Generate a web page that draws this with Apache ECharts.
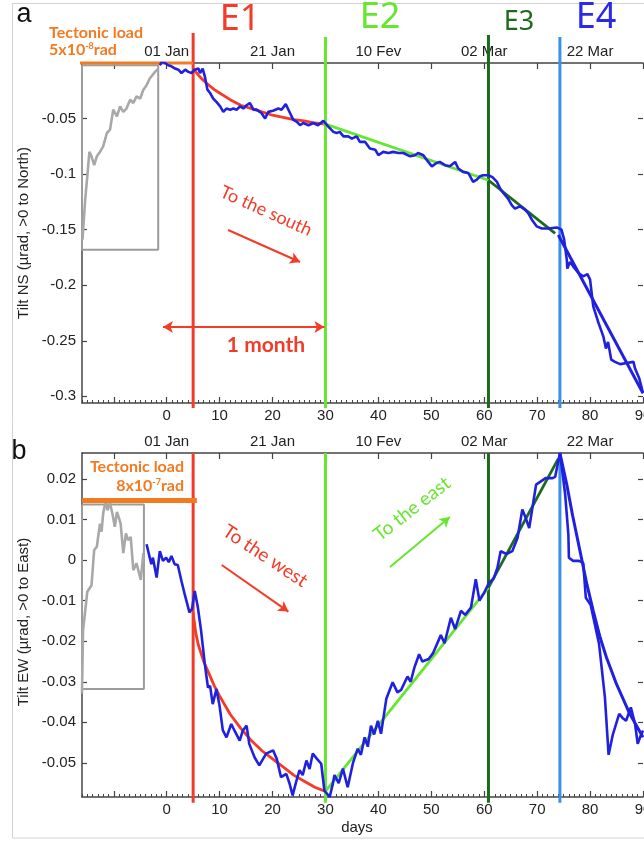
<!DOCTYPE html>
<html><head><meta charset="utf-8">
<script src="https://cdn.jsdelivr.net/npm/echarts@6/dist/echarts.min.js"></script>
<style>html,body{margin:0;padding:0;background:#fff}#c{width:644px;height:842px}</style>
</head><body><div id="c"></div>
<script>
// ================= DATA =================
const eventNames = ['E1', 'E2', 'E3', 'E4'];
const eventDays = [5, 30, 60.8, 74.3];

const bottomTickDays = [-10, 0, 10, 20, 30, 40, 50, 60, 70, 80, 90];
const bottomLabelDays = [0, 10, 20, 30, 40, 50, 60, 70, 80, 90];
const dateTickDays = [0, 20, 40, 60, 80];
const dateLabels = ['01 Jan', '21 Jan', '10 Fev', '02 Mar', '22 Mar'];
const nsTicks = [-0.3, -0.25, -0.2, -0.15, -0.1, -0.05];
const ewTicks = [-0.05, -0.04, -0.03, -0.02, -0.01, 0, 0.01, 0.02];

// ---- panel a : Tilt NS ----
const nsGrayDays = [-15.9,-15.4,-15.0,-14.6,-14.2,-13.7,-13.2,-12.6,-12.0,-11.3,-10.7,-10.1,-9.4,-8.8,-8.2,-7.6,-6.9,-6.3,-5.7,-5.0,-4.4,-3.8,-3.2,-2.2,-1.6];
const nsGrayTilt = [-0.159,-0.123,-0.102,-0.080,-0.084,-0.092,-0.084,-0.080,-0.075,-0.063,-0.060,-0.042,-0.048,-0.039,-0.044,-0.041,-0.033,-0.036,-0.030,-0.032,-0.024,-0.020,-0.014,-0.008,-0.005];
const nsBoxDays = [-16, -1.6];
const nsBoxTilt = [-0.002, -0.168];
const nsLoadDays = [-16.9, 5];
const nsLoadTilt = [0, 0];

const nsDays = [-1.3,-0.9,-0.3,0.3,0.9,1.6,2.2,2.8,3.5,4.1,4.7,5.3,6.0,6.3,6.8,7.2,7.7,8.2,8.8,9.4,10.1,10.7,11.3,12.0,12.6,13.2,13.9,14.5,15.1,15.7,16.4,17.0,17.9,18.6,19.2,20.1,21.1,21.7,22.5,23.3,23.9,24.6,25.2,25.8,26.8,27.7,28.6,29.6,30.5,31.5,32.1,32.7,33.4,34.3,35.0,35.9,36.5,37.5,38.4,39.4,40.0,40.9,41.9,42.8,43.8,44.7,46.0,46.9,47.5,48.5,49.1,50.1,51.0,51.6,52.6,53.5,54.5,55.1,56.0,57.0,57.9,58.6,59.2,59.8,60.8,61.6,62.4,63.0,63.6,64.5,65.2,65.8,66.8,67.7,68.3,69.0,69.9,70.9,72.1,73.7,74.6,75.1,75.6,75.7,76.2,76.8,77.8,78.7,79.5,80.0,80.6,81.6,82.5,83.0,83.4,84.0,84.7,85.7,86.9,88.2,88.5,89.3,90.0];
const nsTilt = [-0.002,0.001,0.000,-0.002,-0.003,-0.005,-0.006,-0.009,-0.006,-0.008,-0.009,-0.006,-0.005,-0.009,-0.005,-0.012,-0.024,-0.027,-0.032,-0.035,-0.039,-0.044,-0.041,-0.042,-0.041,-0.042,-0.039,-0.041,-0.038,-0.036,-0.042,-0.042,-0.045,-0.050,-0.044,-0.043,-0.041,-0.042,-0.037,-0.045,-0.051,-0.053,-0.056,-0.054,-0.056,-0.054,-0.056,-0.052,-0.057,-0.062,-0.063,-0.062,-0.066,-0.066,-0.068,-0.066,-0.071,-0.071,-0.077,-0.078,-0.083,-0.080,-0.081,-0.080,-0.081,-0.081,-0.084,-0.083,-0.081,-0.083,-0.087,-0.093,-0.090,-0.089,-0.092,-0.093,-0.089,-0.095,-0.098,-0.099,-0.107,-0.105,-0.102,-0.101,-0.101,-0.103,-0.107,-0.113,-0.117,-0.122,-0.128,-0.131,-0.129,-0.132,-0.135,-0.141,-0.147,-0.149,-0.149,-0.148,-0.150,-0.159,-0.177,-0.185,-0.179,-0.183,-0.189,-0.192,-0.190,-0.195,-0.219,-0.234,-0.246,-0.257,-0.251,-0.267,-0.269,-0.271,-0.270,-0.269,-0.275,-0.284,-0.297];

const nsFitE1Days = [5,6,7,8,9,10,12,14,16,18,20,22,24,26,28,30];
const nsFitE1Tilt = [-0.005,-0.011,-0.016,-0.020,-0.024,-0.027,-0.033,-0.038,-0.041,-0.044,-0.047,-0.049,-0.051,-0.052,-0.054,-0.055];
const nsFitE2Days = [29.6, 60.8];
const nsFitE2Tilt = [-0.0543, -0.1055];
const nsFitE3Days = [60.8, 73.4];
const nsFitE3Tilt = [-0.1055, -0.1533];
const nsFitE4Days = [74.0, 90];
const nsFitE4Tilt = [-0.1548, -0.2973];

// ---- panel b : Tilt EW ----
const ewGrayDays = [-16.0,-15.9,-15.8,-15.0,-14.2,-13.7,-13.2,-12.6,-12.3,-12.0,-11.5,-11.2,-10.7,-10.2,-9.8,-9.4,-9.1,-8.7,-8.2,-7.7,-7.3,-6.8,-6.3,-5.7,-5.2,-4.9,-4.4];
const ewGrayTilt = [-0.0329,-0.0246,-0.0173,-0.0078,-0.0062,0.0025,0.0033,0.0090,0.0070,0.0115,0.0148,0.0123,0.0140,0.0111,0.0082,0.0119,0.0107,0.0090,0.0017,0.0066,0.0049,0.0057,-0.0025,-0.0008,-0.0033,-0.0049,0.0017];
const ewBoxDays = [-16, -4.3];
const ewBoxTilt = [0.0137, -0.0318];
const ewLoadDays = [-16, 5.7];
const ewLoadTilt = [0.0147, 0.0147];

const ewDays = [-3.8,-3.2,-2.9,-2.6,-1.9,-1.3,-0.7,-0.1,0.4,0.9,1.5,2.1,2.8,3.4,4.3,4.8,5.3,5.9,6.5,7.2,7.8,8.2,8.7,9.4,10.0,10.6,11.3,12.2,12.8,13.8,14.4,15.1,15.6,16.6,17.5,18.8,20.1,20.8,21.6,22.6,23.2,23.8,24.5,25.1,25.7,26.4,27.0,27.6,28.4,29.2,29.8,30.8,31.4,31.7,32.5,33.3,34.2,35.2,36.1,36.7,37.4,38.0,38.6,39.2,39.9,40.5,41.5,42.7,43.6,44.3,45.5,46.1,46.8,47.7,48.3,49.5,50.3,51.8,52.5,53.7,54.5,55.6,56.4,57.5,58.4,59.1,60.0,60.9,61.8,62.5,63.1,64.2,65.3,66.3,67.2,67.8,68.5,69.8,71.6,72.9,73.4,74.3,74.6,75.3,75.9,76.0,76.8,77.9,78.7,79.2,80.1,81.7,82.8,83.5,84.3,85.5,86.2,86.8,87.7,88.5,89.0,89.5,90.0];
const ewTilt = [0.0039,0.0006,-0.0010,0.0006,-0.0043,0.0022,-0.0002,0.0006,-0.0005,0.0010,-0.0010,-0.0012,-0.0052,-0.0084,-0.0129,-0.0120,-0.0076,-0.0117,-0.0174,-0.0256,-0.0314,-0.0310,-0.0355,-0.0318,-0.0360,-0.0419,-0.0437,-0.0404,-0.0420,-0.0445,-0.0420,-0.0408,-0.0453,-0.0486,-0.0506,-0.0477,-0.0469,-0.0490,-0.0535,-0.0527,-0.0550,-0.0580,-0.0545,-0.0518,-0.0530,-0.0494,-0.0515,-0.0477,-0.0490,-0.0502,-0.0568,-0.0584,-0.0551,-0.0530,-0.0550,-0.0514,-0.0560,-0.0500,-0.0465,-0.0480,-0.0437,-0.0460,-0.0408,-0.0430,-0.0396,-0.0428,-0.0342,-0.0301,-0.0326,-0.0320,-0.0287,-0.0300,-0.0265,-0.0232,-0.0250,-0.0244,-0.0230,-0.0185,-0.0205,-0.0142,-0.0170,-0.0125,-0.0135,-0.0117,-0.0047,-0.0100,-0.0080,-0.0056,-0.0045,-0.0019,0.0022,0.0015,0.0022,0.0055,0.0125,0.0105,0.0079,0.0186,0.0202,0.0202,0.0205,0.0264,0.0235,0.0161,0.0063,0.0006,-0.0002,-0.0002,-0.0007,-0.0093,-0.0110,-0.0207,-0.0338,-0.0480,-0.0430,-0.0379,-0.0390,-0.0396,-0.0363,-0.0404,-0.0453,-0.0435,-0.0420];

const ewFitE1Days = [5,5.5,6,7,8,9,10,12,14,16,18,20,22,24,26,28,30];
const ewFitE1Tilt = [-0.0130,-0.0180,-0.0210,-0.0250,-0.0280,-0.0310,-0.0335,-0.0380,-0.0415,-0.0445,-0.0470,-0.0490,-0.0510,-0.0530,-0.0545,-0.0560,-0.0570];
const ewFitE2Days = [30, 60.8];
const ewFitE2Tilt = [-0.0570, -0.0068];
const ewFitE3Days = [60.8, 74.0];
const ewFitE3Tilt = [-0.0068, 0.0250];
const ewFitE4Days = [74.3,75.6,76.7,78.1,79.4,80.6,81.9,83.1,85.0,87.5,90.0];
const ewFitE4Tilt = [0.0264,0.0186,0.0110,0.0022,-0.0060,-0.0125,-0.0191,-0.0240,-0.0306,-0.0379,-0.0437];

// annotation arrows (data coordinates)
const arrowSouth = [[11.6, -0.1503], [25.2, -0.1791]];
const arrowMonth = [[-0.7, -0.2375], [29.8, -0.2375]];
const arrowWest = [[10.4, -0.0012], [23.0, -0.0127]];
const arrowEast = [[42.2, -0.0017], [53.5, 0.0106]];

// ================= STYLE / LAYOUT =================
const C = {red:'#f43b27', lgreen:'#66e62e', dgreen:'#1b6b1b', lblue:'#3a8fe8', blue:'#2020e0',
  orange:'#f47a20', gray:'#a8a8a8', box:'#9c9c9c', axis:'#444', text:'#222'};
const eventColors = [C.red, C.lgreen, C.dgreen, C.lblue];
const nsEventTop = [0.027, 0.0234, 0.0252, 0.0234], nsEventBottom = -0.3105;
const ewEventTop = [0.0264, 0.0264, 0.0264, 0.0264], ewEventBottom = -0.0598;
const tickFont = {fontFamily:'Liberation Sans', fontSize:15, color:C.text};

const chart = echarts.init(document.getElementById('c'), null, {renderer:'canvas'});
const pair = (xs, ys) => xs.map((x, i) => [x, ys[i]]);
const boxPts = (bx, by) => [[bx[0],by[0]],[bx[1],by[0]],[bx[1],by[1]],[bx[0],by[1]],[bx[0],by[0]]];
const fmtY = v => String(parseFloat((+v).toFixed(3)));

function xAxes(g) {
  return [
    {type:'value', gridIndex:g, min:-16, max:90, position:'bottom',
     axisLine:{show:true, onZero:false, lineStyle:{color:C.axis, width:1.5}},
     axisTick:{show:true, inside:true, length:6, customValues:bottomTickDays, lineStyle:{color:C.axis, width:1.2}},
     axisLabel:Object.assign({show:true, customValues:bottomLabelDays, margin:5, hideOverlap:false}, tickFont),
     splitLine:{show:false}},
    {type:'value', gridIndex:g, min:-16, max:90, interval:1, position:'bottom',
     axisLine:{show:false, onZero:false}, axisTick:{show:true, inside:true, length:3, lineStyle:{color:C.axis, width:1}},
     axisLabel:{show:false}, splitLine:{show:false}},
    {type:'value', gridIndex:g, min:-16, max:90, position:'top',
     axisLine:{show:true, onZero:false, lineStyle:{color:C.axis, width:1.5}},
     axisTick:{show:true, inside:true, length:6, customValues:bottomTickDays, lineStyle:{color:C.axis, width:1.2}},
     axisLabel:Object.assign({show:true, customValues:dateTickDays, margin:4,
       formatter: v => dateLabels[dateTickDays.indexOf(Math.round(v))]}, tickFont),
     splitLine:{show:false}}
  ];
}
function yAxes(g, min, max, ticks) {
  return [
    {type:'value', gridIndex:g, min, max, position:'left',
     axisLine:{show:true, onZero:false, lineStyle:{color:C.axis, width:1.5}},
     axisTick:{show:true, inside:true, length:5, customValues:ticks, lineStyle:{color:C.axis, width:1.2}},
     axisLabel:Object.assign({show:true, customValues:ticks, margin:6, formatter:fmtY}, tickFont),
     splitLine:{show:false}},
    {type:'value', gridIndex:g, min, max, position:'right',
     axisLine:{show:false, onZero:false}, axisTick:{show:true, inside:true, length:5, customValues:ticks, lineStyle:{color:C.axis, width:1.2}},
     axisLabel:{show:false}, splitLine:{show:false}}
  ];
}
function line(data, color, width, xi, yi, extra) {
  return Object.assign({type:'line', xAxisIndex:xi, yAxisIndex:yi, data, symbol:'none', showSymbol:false,
    lineStyle:{color, width}, itemStyle:{color}, animation:false, silent:true}, extra || {});
}
function arrowLine(pts, color, both) {
  return [{coord:pts[0], symbol: both ? 'arrow' : 'none', lineStyle:{color, width:2, type:'solid'}},
          {coord:pts[1], symbol:'arrow'}];
}
function panelSeries(xi, yi, d) {
  const s = [];
  eventDays.forEach((day, i) => {
    s.push(line([[day, d.top[i]], [day, d.bottom]], eventColors[i], 3, xi, yi, {clip:false, z:1}));
  });
  s.push(line(boxPts(d.boxX, d.boxY), C.box, 2, xi, yi, {z:2,
    markLine:{silent:true, animation:false, symbolSize:[9, 10], label:{show:false}, data:d.arrows}}));
  s.push(line(pair(d.grayX, d.grayY), C.gray, 2.6, xi, yi, {z:3}));
  s.push(line(pair(d.loadX, d.loadY), C.orange, d.loadW, xi, yi, {clip:false, z:4}));
  s.push(line(pair(d.f1x, d.f1y), C.red, 2.8, xi, yi, {z:3}));
  s.push(line(pair(d.f2x, d.f2y), C.lgreen, 2.8, xi, yi, {z:3}));
  s.push(line(pair(d.f3x, d.f3y), C.dgreen, 2.8, xi, yi, {z:3}));
  s.push(line(pair(d.f4x, d.f4y), C.blue, 3, xi, yi, {z:3}));
  s.push(line(pair(d.x, d.y), C.blue, 2.6, xi, yi, {z:5}));
  return s;
}

const series = [].concat(
  panelSeries(0, 0, {top:nsEventTop, bottom:nsEventBottom, boxX:nsBoxDays, boxY:nsBoxTilt,
    grayX:nsGrayDays, grayY:nsGrayTilt, loadX:nsLoadDays, loadY:nsLoadTilt, loadW:3,
    f1x:nsFitE1Days, f1y:nsFitE1Tilt, f2x:nsFitE2Days, f2y:nsFitE2Tilt, f3x:nsFitE3Days, f3y:nsFitE3Tilt,
    f4x:nsFitE4Days, f4y:nsFitE4Tilt, x:nsDays, y:nsTilt,
    arrows:[arrowLine(arrowSouth, C.red, false), arrowLine(arrowMonth, C.red, true)]}),
  panelSeries(3, 2, {top:ewEventTop, bottom:ewEventBottom, boxX:ewBoxDays, boxY:ewBoxTilt,
    grayX:ewGrayDays, grayY:ewGrayTilt, loadX:ewLoadDays, loadY:ewLoadTilt, loadW:5,
    f1x:ewFitE1Days, f1y:ewFitE1Tilt, f2x:ewFitE2Days, f2y:ewFitE2Tilt, f3x:ewFitE3Days, f3y:ewFitE3Tilt,
    f4x:ewFitE4Days, f4y:ewFitE4Tilt, x:ewDays, y:ewTilt,
    arrows:[arrowLine(arrowWest, C.red, false), arrowLine(arrowEast, C.lgreen, false)]})
);

function txt(text, x, y, font, fill, opts) {
  return Object.assign({type:'text', x, y, silent:true, z:100,
    style:Object.assign({text, font, fill, align:'center', verticalAlign:'middle'}, (opts && opts.style) || {})},
    opts && opts.rotation !== undefined ? {rotation:opts.rotation} : {});
}
const eFonts = ['36px "Noto Sans"', '36px "Noto Sans"', '27px "Noto Sans"', '36px "Noto Sans"'];
const eColors = [C.red, C.lgreen, C.dgreen, '#2a2ae8'];
const ePos = [[240, 20], [380, 18], [519, 22], [596, 18]];

const supRich = {
  b:{fontFamily:'Lato', fontWeight:'bold', fontSize:16, fill:C.orange, color:C.orange},
  s:{fontFamily:'Lato', fontWeight:'bold', fontSize:9, fill:C.orange, color:C.orange, verticalAlign:'top'}
};

const graphic = [
  {type:'rect', shape:{x:12.5, y:3.5, width:640, height:834.5}, style:{fill:'none', stroke:'#d2d2d2', lineWidth:1}, silent:true, z:0},
  txt('a', 24, 15, '27px "Liberation Sans"', '#111'),
  txt('b', 19, 452, '27px "Liberation Sans"', '#111'),
  txt('Tilt NS (µrad, >0 to North)', 24, 233, '15px "Liberation Sans"', C.text, {rotation:Math.PI/2}),
  txt('Tilt EW (µrad, >0 to East)', 24, 622, '15px "Liberation Sans"', C.text, {rotation:Math.PI/2}),
  txt('days', 357, 828, '15px "Liberation Sans"', C.text),
  txt('Tectonic load', 49, 33, 'bold 16px Lato', C.orange, {style:{align:'left'}}),
  {type:'text', x:49, y:50, silent:true, z:100, style:{text:'{b|5x10}{s|-8}{b|rad}', rich:supRich, align:'left', verticalAlign:'middle'}},
  txt('Tectonic load', 184, 467, 'bold 16px Lato', C.orange, {style:{align:'right'}}),
  {type:'text', x:184, y:486, silent:true, z:100, style:{text:'{b|8x10}{s|-7}{b|rad}', rich:supRich, align:'right', verticalAlign:'middle'}},
  txt('To the south', 266, 211, '18px Lato', C.red, {rotation:-0.42}),
  txt('1 month', 266, 345, 'bold 21px Lato', C.red),
  txt('To the west', 265, 556, '19px Lato', C.red, {rotation:-0.58}),
  txt('To the east', 412, 509, '19px Lato', C.lgreen, {rotation:0.66})
].concat(eventNames.map((n, i) => txt(n, ePos[i][0], ePos[i][1], eFonts[i], eColors[i])));

chart.setOption({
  animation:false,
  backgroundColor:'#fff',
  grid:[{left:82, top:63, width:561, height:340, containLabel:false, outerBoundsMode:'none'},
        {left:82, top:453, width:561, height:344, containLabel:false, outerBoundsMode:'none'}],
  xAxis:[].concat(xAxes(0), xAxes(1)),
  yAxis:[].concat(yAxes(0, -0.306, 0, nsTicks), yAxes(1, -0.0584, 0.0264, ewTicks)),
  series,
  graphic
});
</script></body></html>
